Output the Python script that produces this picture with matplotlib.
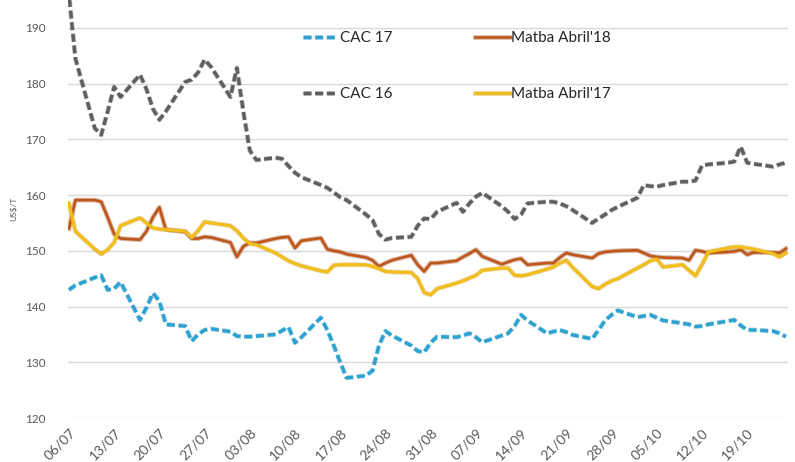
import matplotlib
matplotlib.use("Agg")
import matplotlib.pyplot as plt
import matplotlib.dates as mdates
import matplotlib.patheffects as pe
import pandas as pd

# business days 06/07/2017 .. 25/10/2017
dates = pd.bdate_range("2017-07-06", "2017-10-25")

cac16 = [196.0, 184.5,
         172.0, 170.8, 175.0, 179.4, 177.6,
         181.6, 179.0, 175.5, 173.5, 175.0,
         180.3, 180.7, 182.0, 184.3, 183.0,
         177.6, 182.8, 175.0, 168.0, 166.3,
         166.7, 166.5, 165.2, 164.0, 163.2,
         161.8, 161.3, 160.5, 159.6, 159.1,
         156.5, 155.5, 153.0, 152.0, 152.3,
         152.5, 154.5, 155.8, 155.7, 157.0,
         158.6, 157.0, 158.5, 159.7, 160.4,
         158.0, 157.0, 155.7, 156.5, 158.5,
         158.8, 158.8, 158.5, 158.0, 157.3,
         155.0, 155.8, 156.5, 157.3, 157.9,
         159.5, 161.8, 161.6, 161.5, 161.8,
         162.4, 162.4, 162.6, 165.3, 165.5,
         165.8, 166.0, 168.7, 165.8, 165.6,
         165.1, 165.5, 165.8]

cac17 = [143.0, 143.8,
         145.2, 145.6, 143.0, 143.2, 144.4,
         137.6, 139.8, 142.4, 141.0, 136.8,
         136.5, 133.8, 135.0, 135.8, 136.0,
         135.5, 134.7, 134.6, 134.6, 134.7,
         135.0, 135.7, 136.3, 133.5, 134.5,
         138.0, 135.8, 133.0, 130.0, 127.2,
         127.6, 128.5, 133.0, 135.6, 134.8,
         133.0, 132.0, 131.8, 133.5, 134.6,
         134.5, 134.8, 135.2, 134.5, 133.6,
         134.8, 135.2, 136.5, 138.5, 137.5,
         135.2, 135.5, 135.8, 135.4, 134.9,
         134.2, 135.8, 137.5, 138.5, 139.3,
         138.1, 138.3, 138.5, 138.0, 137.5,
         137.0, 136.8, 136.4, 136.5, 136.8,
         137.4, 137.6, 136.6, 135.8, 135.8,
         135.6, 135.2, 134.6]

matba18 = [154.0, 159.1,
           159.1, 158.8, 156.0, 153.0, 152.2,
           152.0, 153.5, 156.0, 157.8, 153.8,
           153.4, 152.2, 152.2, 152.5, 152.4,
           151.5, 148.9, 150.8, 151.4, 151.4,
           152.2, 152.4, 152.5, 150.5, 151.8,
           152.3, 150.3, 150.0, 149.8, 149.4,
           148.8, 148.3, 147.2, 147.8, 148.3,
           149.2, 147.5, 146.3, 147.8, 147.8,
           148.2, 148.9, 149.5, 150.2, 149.0,
           147.6, 148.0, 148.4, 148.6, 147.5,
           147.8, 147.8, 148.8, 149.6, 149.3,
           148.7, 149.5, 149.8, 149.9, 150.0,
           150.1, 149.6, 149.1, 148.9, 148.8,
           148.7, 148.3, 150.1, 149.9, 149.6,
           149.8, 149.9, 150.2, 149.3, 149.7,
           149.7, 149.6, 150.4]

matba17 = [158.5, 153.5,
           150.3, 149.4, 150.2, 151.5, 154.5,
           155.9, 155.0, 154.1, 153.9, 153.8,
           153.5, 152.4, 153.6, 155.2, 155.0,
           154.5, 153.6, 152.3, 151.3, 151.1,
           149.6, 148.9, 148.2, 147.7, 147.3,
           146.4, 146.2, 147.4, 147.5, 147.5,
           147.5, 147.2, 146.8, 146.3, 146.2,
           146.1, 145.0, 142.5, 142.1, 143.2,
           144.2, 144.6, 145.1, 145.6, 146.5,
           146.9, 146.9, 145.6, 145.5, 145.7,
           146.7, 147.1, 147.8, 148.3, 147.0,
           143.6, 143.2, 144.0, 144.6, 145.0,
           146.9, 147.5, 148.2, 148.5, 147.1,
           147.5, 146.5, 145.5, 147.5, 149.8,
           150.5, 150.7, 150.7, 150.5, 150.3,
           149.5, 148.9, 149.6]

tick_dates = pd.date_range("2017-07-06", "2017-10-19", freq="7D")

plt.rcParams['font.family'] = ['Lato', 'DejaVu Sans']

fig = plt.figure(figsize=(7.95, 4.62), dpi=100)
ax = fig.add_axes([0.0855, 0.0952, 0.9055, 0.9048])

shadow = lambda c: [pe.Stroke(linewidth=3.4, foreground=c, alpha=0.35), pe.Normal()]

l17, = ax.plot(dates, cac17, color='#2AA3D3', lw=2.4, dashes=(2.4, 1.1), label='CAC 17',
               path_effects=shadow('#1b7fa8'))
l16, = ax.plot(dates, cac16, color='#5F5F5F', lw=2.4, dashes=(2.4, 1.1), label='CAC 16',
               path_effects=shadow('#404040'))
m18, = ax.plot(dates, matba18, color='#C0561A', lw=1.9, label="Matba Abril'18",
               path_effects=shadow('#8a3a0c'))
m17, = ax.plot(dates, matba17, color='#F2BE1E', lw=2.3, label="Matba Abril'17",
               path_effects=shadow('#c7901a'))

ax.set_ylim(120, 195)
ax.set_yticks(range(120, 195, 10))
x0 = mdates.date2num(pd.Timestamp("2017-07-06"))
ax.set_xlim(x0 - 0.15, x0 + 111.3)
ax.set_xticks(tick_dates)
ax.xaxis.set_major_formatter(mdates.DateFormatter('%d/%m'))
plt.setp(ax.get_xticklabels(), rotation=45, ha='right', rotation_mode='anchor')

ax.grid(axis='y', color='#D9D9D9', lw=1)
ax.set_axisbelow(True)
for s in ax.spines.values():
    s.set_visible(False)
ax.tick_params(axis='both', length=0, colors='#595959', labelsize=8.5)
ax.tick_params(axis='y', pad=16)
ax.tick_params(axis='x', pad=6, labelsize=10)

ax.set_ylabel('US$/T', fontsize=6, color='#595959', labelpad=6)

ax.legend(handles=[l17, l16, m18, m17], ncol=2, frameon=False,
          loc='upper left', bbox_to_anchor=(303 / 795, 1 - 31 / 462),
          bbox_transform=fig.transFigure, borderpad=0, borderaxespad=0,
          handlelength=2.3, handletextpad=0.1, labelspacing=2.75,
          columnspacing=5.4, fontsize=11, labelcolor='#262626')

fig.savefig('out.png', dpi=100)
